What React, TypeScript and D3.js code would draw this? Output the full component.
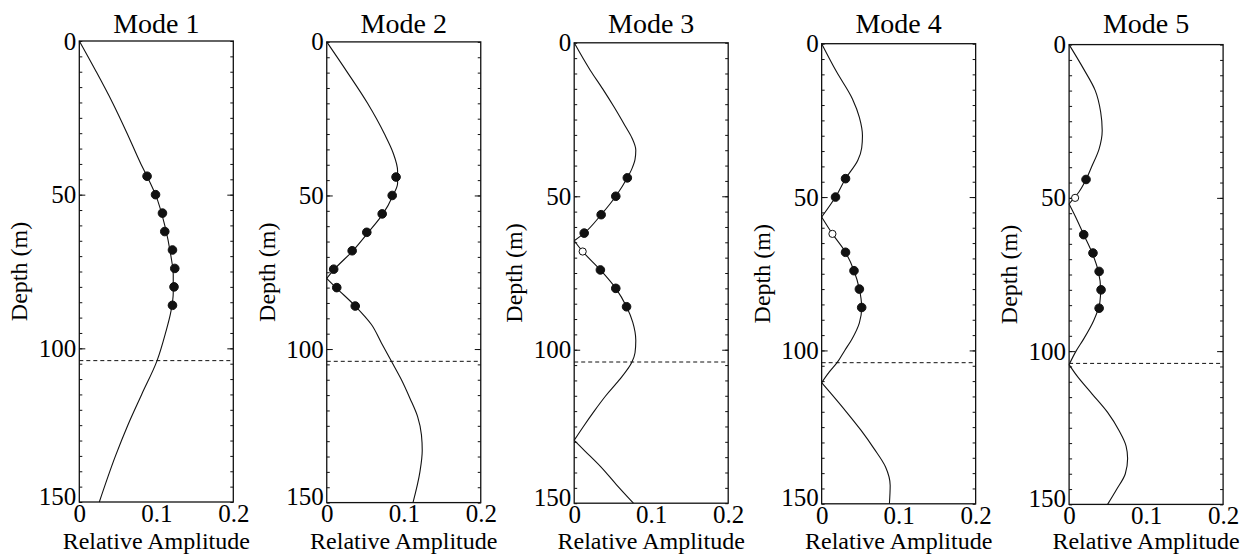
import React, { useEffect, useRef } from "react";
import * as d3 from "d3";

const SERIF = "'Liberation Serif', 'Times New Roman', serif";

const modes = ["Mode 1", "Mode 2", "Mode 3", "Mode 4", "Mode 5"];
const depthTicks = [0, 50, 100, 150];
const ampTicks = [0, 0.1, 0.2];
const interfaceDepth = 104;
const sampleDepths = [44, 50, 56, 62, 68, 74, 80, 86];

// model curves as [depth, amplitude], split at the zero crossings
const mode1Curve = [
  [[0, 0], [10, 0.022], [20, 0.043], [30, 0.062], [40, 0.08], [44, 0.088], [50, 0.099], [60, 0.111],
   [70, 0.119], [76, 0.122], [82, 0.122], [88, 0.119], [95, 0.112], [104, 0.101], [115, 0.081],
   [125, 0.063], [135, 0.047], [150, 0.026]],
];
const mode2Curve = [
  [[0, 0], [10, 0.027], [20, 0.053], [30, 0.075], [36, 0.086], [42, 0.092], [46, 0.092], [50, 0.086],
   [56, 0.073], [62, 0.054], [68, 0.034], [74, 0.01], [77, 0]],
  [[77, 0], [80, 0.012], [86, 0.037], [92, 0.058], [98, 0.071], [104, 0.084], [110, 0.097],
   [116, 0.108], [122, 0.118], [128, 0.123], [133, 0.124], [140, 0.121], [150, 0.112]],
];
const mode3Curve = [
  [[0, 0], [9, 0.021], [15, 0.037], [21, 0.052], [27, 0.066], [31, 0.075], [35, 0.08], [38, 0.079],
   [41, 0.075], [44, 0.069], [50, 0.054], [56, 0.035], [62, 0.013], [64.5, 0]],
  [[64.5, 0], [68, 0.011], [74, 0.034], [80, 0.054], [86, 0.068], [91, 0.076], [97, 0.08],
   [101, 0.079], [104, 0.075], [110, 0.058], [115, 0.041], [120, 0.026], [125, 0.012], [129.5, 0]],
  [[129.5, 0], [133, 0.014], [138, 0.034], [144, 0.055], [150, 0.077]],
];
const mode4Curve = [
  [[0, 0], [9, 0.019], [18, 0.04], [24, 0.049], [30, 0.053], [34, 0.052], [38, 0.047], [44, 0.031],
   [50, 0.018], [56.5, 0]],
  [[56.5, 0], [62, 0.014], [68, 0.031], [74, 0.042], [80, 0.049], [86, 0.052], [91, 0.049],
   [96, 0.04], [100, 0.03], [104, 0.02], [107, 0.01], [110.5, 0]],
  [[110.5, 0], [114, 0.012], [120, 0.032], [126, 0.051], [132, 0.068], [138, 0.083], [144, 0.089],
   [150, 0.088]],
];
const mode5Curve = [
  [[0, 0], [8, 0.019], [15, 0.034], [22, 0.041], [28, 0.043], [34, 0.039], [40, 0.029], [44, 0.022],
   [48, 0.013], [50, 0.0065], [52, 0]],
  [[52, 0], [56, 0.008], [62, 0.019], [68, 0.03], [74, 0.038], [80, 0.041], [84, 0.04], [90, 0.032],
   [96, 0.019], [100, 0.009], [104.4, 0]],
  [[104.4, 0], [108, 0.01], [114, 0.03], [120, 0.05], [126, 0.065], [131, 0.074], [135, 0.076],
   [140, 0.073], [145, 0.062], [150, 0.05]],
];

// observed amplitudes at sampleDepths (null = no sample)
const mode1Obs = [0.088, 0.099, 0.108, 0.111, 0.121, 0.124, 0.123, 0.121];
const mode2Obs = [0.09, 0.085, 0.072, 0.052, 0.033, 0.009, 0.013, 0.037];
const mode3Obs = [0.069, 0.054, 0.035, 0.013, 0.011, 0.034, 0.054, 0.068];
const mode4Obs = [0.031, 0.018, null, 0.014, 0.031, 0.042, 0.049, 0.052];
const mode5Obs = [0.022, 0.0078, null, 0.019, 0.031, 0.039, 0.0415, 0.039];
// depths drawn as open circles
const openDepths = [[], [], [68], [62], [50]];

const curves = [mode1Curve, mode2Curve, mode3Curve, mode4Curve, mode5Curve];
const observations = [mode1Obs, mode2Obs, mode3Obs, mode4Obs, mode5Obs];

export default function App() {
  const svgRef = useRef<SVGSVGElement>(null);
  const width = 1248;
  const height = 560;
  const panelW = 154;
  const step = 247.45;
  const x0 = 79.3;

  useEffect(() => {
    const svg = d3.select(svgRef.current);
    svg.selectAll("*").remove();

    modes.forEach((name, i) => {
      const left = x0 + i * step;
      const top = 41 + i * 0.9;
      const bottom = 502 + i * 0.6;
      const x = d3.scaleLinear().domain([0, 0.2]).range([0, panelW]);
      const y = d3.scaleLinear().domain([0, 150]).range([0, bottom - top]);

      const g = svg.append("g").attr("transform", `translate(${left},${top})`);

      // inward ticks on both sides
      const minor = d3.range(0, 151, 5);
      const sides: [any, number][] = [
        [d3.axisRight(y), 0],
        [d3.axisLeft(y), panelW],
      ];
      sides.forEach(([ax, tx]) => {
        g.append("g")
          .attr("transform", `translate(${tx},0)`)
          .call(ax.tickValues(minor).tickSize(3).tickFormat(() => ""))
          .call((s: any) => s.select(".domain").remove())
          .selectAll("line")
          .attr("stroke", "#111");
        g.append("g")
          .attr("transform", `translate(${tx},0)`)
          .call(ax.tickValues([50, 100]).tickSize(6).tickFormat(() => ""))
          .call((s: any) => s.select(".domain").remove())
          .selectAll("line")
          .attr("stroke", "#111");
      });

      // y labels
      g.append("g")
        .call(d3.axisLeft(y).tickValues(depthTicks).tickSize(0).tickPadding(3).tickFormat((d) => String(d)))
        .attr("font-family", SERIF)
        .attr("font-size", 25)
        .call((s) => s.select(".domain").remove())
        .selectAll("text")
        .attr("y", (d) => (+d === 150 ? -6 : 0));

      // x labels
      g.append("g")
        .attr("transform", `translate(0,${bottom - top})`)
        .call(
          d3
            .axisBottom(x)
            .tickValues(ampTicks)
            .tickSize(0)
            .tickPadding(2)
            .tickFormat((d) => (+d === 0 ? "0" : d3.format(".1f")(+d)))
        )
        .attr("font-family", SERIF)
        .attr("font-size", 25)
        .call((s) => s.select(".domain").remove());

      // frame
      g.append("rect")
        .attr("width", panelW)
        .attr("height", bottom - top)
        .attr("fill", "none")
        .attr("stroke", "#111")
        .attr("stroke-width", 1.3);

      // interface depth
      g.append("line")
        .attr("x1", 0)
        .attr("x2", panelW)
        .attr("y1", y(interfaceDepth))
        .attr("y2", y(interfaceDepth))
        .attr("stroke", "#111")
        .attr("stroke-width", 1)
        .attr("stroke-dasharray", "4,3");

      const line = d3
        .line<number[]>()
        .x((d) => x(d[1]))
        .y((d) => y(d[0]))
        .curve(d3.curveMonotoneY);

      curves[i].forEach((seg) => {
        g.append("path")
          .attr("d", line(seg))
          .attr("fill", "none")
          .attr("stroke", "#111")
          .attr("stroke-width", 1.1);
      });

      const pts = sampleDepths
        .map((dep, k) => ({ dep, amp: observations[i][k] }))
        .filter((p) => p.amp !== null);

      g.selectAll("circle.obs")
        .data(pts)
        .enter()
        .append("circle")
        .attr("class", "obs")
        .attr("cx", (d) => x(d.amp as number))
        .attr("cy", (d) => y(d.dep))
        .attr("r", (d) => (openDepths[i].includes(d.dep) ? 3.6 : 4.3))
        .attr("fill", (d) => (openDepths[i].includes(d.dep) ? "#fff" : "#111"))
        .attr("stroke", "#111")
        .attr("stroke-width", 1);

      // titles
      g.append("text")
        .attr("x", panelW / 2)
        .attr("y", 33 - top)
        .attr("text-anchor", "middle")
        .attr("font-family", SERIF)
        .attr("font-size", 28)
        .text(name);

      g.append("text")
        .attr("x", panelW / 2)
        .attr("y", 549 - top)
        .attr("text-anchor", "middle")
        .attr("font-family", SERIF)
        .attr("font-size", 24)
        .text("Relative Amplitude");

      g.append("text")
        .attr("transform", `translate(-52,${(bottom - top) / 2}) rotate(-90)`)
        .attr("text-anchor", "middle")
        .attr("font-family", SERIF)
        .attr("font-size", 24)
        .text("Depth (m)");
    });
  }, []);

  return (
    <svg
      ref={svgRef}
      width={width}
      height={height}
      style={{ position: "absolute", left: 0, top: 0, background: "#fff" }}
    ></svg>
  );
}
